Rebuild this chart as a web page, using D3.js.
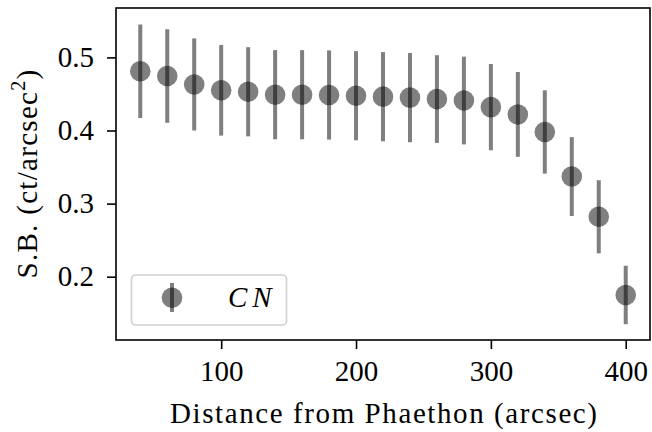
<!DOCTYPE html>
<html>
<head>
<meta charset="utf-8">
<script src="https://cdn.jsdelivr.net/npm/d3@7"></script>
<style>
  body { margin: 0; background: #fff; }
  svg text { font-family: "Liberation Serif", "Times New Roman", serif !important; }
</style>
</head>
<body>
<div class="chart"></div>
<script>
// surface brightness profile, CN
const dist = [40, 60, 80, 100, 120, 140, 160, 180, 200, 220, 240, 260, 280, 300, 320, 340, 360, 380, 400]
const sb = [0.481, 0.4745, 0.463, 0.455, 0.453, 0.449, 0.449, 0.4486, 0.4476, 0.4463, 0.445, 0.443, 0.441, 0.432, 0.422, 0.398, 0.337, 0.282, 0.175]
const err = [0.064, 0.064, 0.063, 0.062, 0.061, 0.061, 0.061, 0.061, 0.061, 0.061, 0.061, 0.060, 0.060, 0.059, 0.058, 0.057, 0.054, 0.050, 0.040]
const xTicks = [100, 200, 300, 400]
const yTicks = [0.2, 0.3, 0.4, 0.5]
const seriesLabel = 'CN'

const width = 652
const height = 432
const margin = {left: 116, right: 2, top: 8, bottom: 92}

const data = dist.map((d, i) => ({x: d, y: sb[i], e: err[i]}))

const svg = d3.select('.chart')
    .append('svg')
    .attr('width', width)
    .attr('height', height)

const x = d3.scaleLinear()
    .domain([22, 418])
    .range([margin.left, width - margin.right])

const y = d3.scaleLinear()
    .domain([0.1134, 0.5676])
    .range([height - margin.bottom, margin.top])

const col = '#000'

svg.append('g')
    .selectAll('line')
    .data(data)
    .enter().append('line')
      .attr('x1', d => x(d.x))
      .attr('x2', d => x(d.x))
      .attr('y1', d => y(d.y - d.e))
      .attr('y2', d => y(d.y + d.e))
      .attr('stroke', col)
      .attr('stroke-opacity', 0.5)
      .attr('stroke-width', 4)

svg.append('g')
    .selectAll('circle')
    .data(data)
    .enter().append('circle')
      .attr('cx', d => x(d.x))
      .attr('cy', d => y(d.y))
      .attr('r', 10.3)
      .attr('fill', col)
      .attr('fill-opacity', 0.5)

const xAxis = svg.append('g')
    .attr('transform', `translate(0,${height - margin.bottom})`)
    .call(d3.axisBottom(x).tickValues(xTicks).tickSize(9).tickPadding(11).tickFormat(d3.format('d')))
const yAxis = svg.append('g')
    .attr('transform', `translate(${margin.left},0)`)
    .call(d3.axisLeft(y).tickValues(yTicks).tickSize(9).tickPadding(13).tickFormat(d3.format('.1f')))

for (const ax of [xAxis, yAxis]) {
    ax.select('.domain').remove()
    ax.selectAll('line').attr('stroke', '#000').attr('stroke-width', 1.6)
    ax.selectAll('text').attr('font-size', 29).attr('fill', '#000')
}
xAxis.selectAll('text').attr('dy', '0.71em')

svg.append('rect')
    .attr('x', margin.left)
    .attr('y', margin.top)
    .attr('width', width - margin.left - margin.right)
    .attr('height', height - margin.top - margin.bottom)
    .attr('fill', 'none')
    .attr('stroke', '#000')
    .attr('stroke-width', 1.6)

svg.append('text')
    .attr('x', 383.5)
    .attr('y', 423)
    .attr('text-anchor', 'middle')
    .attr('font-size', 29)
    .attr('textLength', 427)
    .attr('lengthAdjust', 'spacing')
    .text('Distance from Phaethon (arcsec)')

const yl = svg.append('text')
    .attr('transform', `translate(37,173.5) rotate(-90)`)
    .attr('text-anchor', 'middle')
    .attr('font-size', 29)
    .attr('letter-spacing', 1.3)
yl.append('tspan').text('S.B. (ct/arcsec')
yl.append('tspan').attr('font-size', 20).attr('dy', -12).text('2')
yl.append('tspan').attr('dy', 12).text(')')

const lg = svg.append('g')
lg.append('rect')
    .attr('x', 131.5).attr('y', 275)
    .attr('width', 155).attr('height', 50)
    .attr('rx', 4)
    .attr('fill', '#fff').attr('fill-opacity', 0.8)
    .attr('stroke', '#d0d0d0').attr('stroke-width', 1.6)
lg.append('line')
    .attr('x1', 172).attr('x2', 172)
    .attr('y1', 283).attr('y2', 312)
    .attr('stroke', col).attr('stroke-opacity', 0.5).attr('stroke-width', 4)
lg.append('circle')
    .attr('cx', 172).attr('cy', 297.7).attr('r', 10.3)
    .attr('fill', col).attr('fill-opacity', 0.5)
lg.append('text')
    .attr('x', 228).attr('y', 307)
    .attr('font-size', 29)
    .attr('font-style', 'italic')
    .attr('letter-spacing', 5)
    .text(seriesLabel)
</script>
</body>
</html>
